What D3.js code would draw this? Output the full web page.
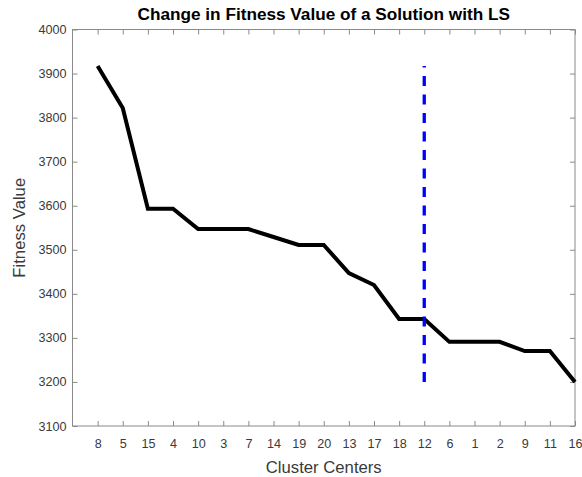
<!DOCTYPE html>
<html>
<head>
<meta charset="utf-8">
<script src="https://cdn.jsdelivr.net/npm/d3@7/dist/d3.min.js"></script>
<style>
  html, body { margin: 0; padding: 0; background: #fff; }
  svg { display: block; font-family: "Liberation Sans", Arial, sans-serif; }
</style>
</head>
<body>
<svg id="chart" width="582" height="477"></svg>
<script>
// Order in which cluster centers are visited, and fitness after each step
const clusterCenters = ["8", "5", "15", "4", "10", "3", "7", "14", "19", "20",
                        "13", "17", "18", "12", "6", "1", "2", "9", "11", "16"];
const fitnessValues = [3917, 3822, 3593, 3593, 3547, 3547, 3547, 3529, 3511, 3511,
                       3447, 3420, 3343, 3343, 3291, 3291, 3291, 3270, 3270, 3200];
const yTicks = [3100, 3200, 3300, 3400, 3500, 3600, 3700, 3800, 3900, 4000];
// Marker: vertical dashed line at center 12
const markerCenter = "12";
const markerRange = [3200, 3917];

const svg = d3.select("#chart");
const plotLeft = 72.5, plotRight = 575, plotTop = 29.5, plotBottom = 426;
const frameColor = "#8a8a8a", textColor = "#3a3a3a";

const x = d3.scaleLinear().domain([0, clusterCenters.length]).range([plotLeft, plotRight]);
const y = d3.scaleLinear().domain([3100, 4000]).range([plotBottom, plotTop]);
const idx = d => clusterCenters.indexOf(d) + 1;

// Ticks (inside, on all four sides)
const xTickVals = d3.range(1, clusterCenters.length + 1);
const g = svg.append("g");

const xAxisB = d3.axisBottom(x).tickValues(xTickVals).tickSize(-5)
  .tickFormat(i => clusterCenters[i - 1]).tickPadding(13.5);
const xAxisT = d3.axisTop(x).tickValues(xTickVals).tickSize(-5).tickFormat("");
const yAxisL = d3.axisLeft(y).tickValues(yTicks).tickSize(-5).tickPadding(6)
  .tickFormat(d3.format("d"));
const yAxisR = d3.axisRight(y).tickValues(yTicks).tickSize(-5).tickFormat("");

function style(sel) {
  sel.select(".domain").remove();
  sel.selectAll(".tick line").attr("stroke", frameColor).attr("stroke-width", 1);
  sel.selectAll(".tick text").attr("fill", textColor)
    .style("font-size", "12.6px").style("font-family", "'Liberation Sans', Arial, sans-serif");
}
g.append("g").attr("transform", `translate(0,${plotBottom})`).call(xAxisB).call(style);
g.append("g").attr("transform", `translate(0,${plotTop})`).call(xAxisT).call(style);
g.append("g").attr("transform", `translate(${plotLeft},0)`).call(yAxisL).call(style);
g.append("g").attr("transform", `translate(${plotRight},0)`).call(yAxisR).call(style);

// Frame
svg.append("rect")
  .attr("x", plotLeft).attr("y", plotTop)
  .attr("width", plotRight - plotLeft).attr("height", plotBottom - plotTop)
  .attr("fill", "none").attr("stroke", frameColor).attr("stroke-width", 1);

// Fitness curve
const line = d3.line().x((d, i) => x(i + 1)).y(d => y(d));
svg.append("path")
  .datum(fitnessValues)
  .attr("d", line)
  .attr("fill", "none")
  .attr("stroke", "#000")
  .attr("stroke-width", 4)
  .attr("stroke-linejoin", "miter");

// Dashed marker, drawn upward from the lower end
svg.append("line")
  .attr("x1", x(idx(markerCenter))).attr("x2", x(idx(markerCenter)))
  .attr("y1", y(markerRange[0])).attr("y2", y(markerRange[1]))
  .attr("stroke", "#0000ff")
  .attr("stroke-width", 3.3)
  .attr("stroke-dasharray", "10,8.5");

// Title and axis labels
svg.append("text")
  .attr("x", (plotLeft + plotRight) / 2).attr("y", 20)
  .attr("text-anchor", "middle")
  .style("font-size", "17.2px").style("font-weight", "bold")
  .attr("fill", "#000")
  .text("Change in Fitness Value of a Solution with LS");

svg.append("text")
  .attr("x", (plotLeft + plotRight) / 2).attr("y", 473)
  .attr("text-anchor", "middle")
  .style("font-size", "16.7px")
  .attr("fill", textColor)
  .text("Cluster Centers");

svg.append("text")
  .attr("transform", `translate(25,${(plotTop + plotBottom) / 2}) rotate(-90)`)
  .attr("text-anchor", "middle")
  .style("font-size", "16.7px")
  .attr("fill", textColor)
  .text("Fitness Value");
</script>
</body>
</html>
